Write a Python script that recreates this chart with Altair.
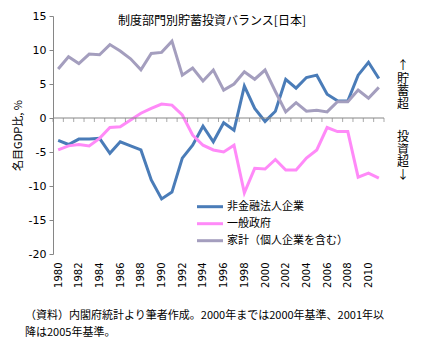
import altair as alt
import pandas as pd

years = list(range(1980, 2012))
series_names = ["非金融法人企業", "一般政府", "家計（個人企業を含む）"]
corporate = [-3.3, -3.9, -3.1, -3.1, -3.0, -5.2, -3.5, -4.1, -4.7, -9.1, -11.9,
             -10.9, -5.9, -4.0, -1.2, -3.5, -0.7, -1.8, 4.7, 1.4, -0.5,
             1.0, 5.7, 4.4, 5.95, 6.3, 3.5, 2.55, 2.5, 6.3, 8.2, 5.8]
government = [-4.7, -4.1, -3.9, -4.1, -3.0, -1.4, -1.3, -0.3, 0.7, 1.4, 2.05,
              1.9, 0.45, -2.5, -4.0, -4.7, -5.0, -4.0, -11.0, -7.4, -7.5,
              -6.1, -7.65, -7.65, -5.9, -4.7, -1.4, -2.0, -2.0, -8.7, -8.1, -8.85]
household = [7.2, 9.0, 8.0, 9.4, 9.3, 10.8, 9.85, 8.7, 7.1, 9.5, 9.65,
             11.3, 6.3, 7.35, 5.45, 7.05, 4.1, 5.0, 6.8, 5.7, 7.05,
             3.9, 0.9, 2.25, 1.0, 1.15, 0.9, 2.4, 2.4, 4.1, 2.9, 4.5]
colors = ["#4A7CB8", "#FF8AF8", "#A49EBE"]
widths = [3, 3, 2]
y_ticks = [-20, -15, -10, -5, 0, 5, 10, 15]
x_labels = list(range(1980, 2012, 2))
x_bounds = [y - 0.5 for y in range(1980, 2013)]

title_text = "制度部門別貯蓄投資バランス[日本]"
y_title = "名目GDP比, %"
note1 = "（資料）内閣府統計より筆者作成。2000年までは2000年基準、2001年以"
note2 = "降は2005年基準。"
up_label = ["↑", "貯", "蓄", "超"]
down_label = ["投", "資", "超", "↓"]

rows = []
for name, vals in zip(series_names, [corporate, government, household]):
    for yr, v in zip(years, vals):
        rows.append({"year": yr, "value": v, "series": name})
df = pd.DataFrame(rows)

JP = "Noto Sans CJK JP"
xscale = alt.Scale(domain=[1979.5, 2011.5], nice=False, zero=False)
yscale = alt.Scale(domain=[-20, 15], nice=False, zero=False)

x_axis = alt.Axis(values=x_labels, format="d", labelAngle=-90, ticks=False,
                  domain=False, grid=False, labelPadding=8, labelFont="DejaVu Sans",
                  labelFontSize=10, labelColor="#000", title=None,
                  labelOverlap=False, labelFlush=False, labelBound=False)
y_axis = alt.Axis(values=y_ticks, labelExpr="toString(datum.value)", grid=False,
                  domainColor="#868686",
                  tickColor="#868686", tickSize=4, labelPadding=3,
                  labelFont="DejaVu Sans", labelFontSize=11, labelColor="#000",
                  labelOverlap=False, labelFlush=False, labelBound=False,
                  title=y_title, titleFont=JP, titleFontSize=11,
                  titleFontWeight="normal", titleColor="#000", titlePadding=5)

zero_line = alt.Chart(pd.DataFrame({"x": [1979.5], "x2": [2011.5], "y": [0]})).mark_rule(
    color="#868686", strokeWidth=1
).encode(x=alt.X("x:Q", scale=xscale, axis=x_axis), x2="x2:Q",
         y=alt.Y("y:Q", scale=yscale, axis=y_axis))

zero_ticks = alt.Chart(pd.DataFrame({"x": x_bounds, "y": [0] * len(x_bounds)})).mark_tick(
    color="#868686", orient="vertical", size=4, yOffset=2, thickness=1
).encode(x=alt.X("x:Q", scale=xscale, axis=x_axis),
         y=alt.Y("y:Q", scale=yscale, axis=y_axis))

lines = alt.Chart(df).mark_line(strokeJoin="miter").encode(
    x=alt.X("year:Q", scale=xscale, axis=x_axis),
    y=alt.Y("value:Q", scale=yscale, axis=y_axis),
    color=alt.Color("series:N", scale=alt.Scale(domain=series_names, range=colors),
                    legend=None),
    strokeWidth=alt.StrokeWidth("series:N", scale=alt.Scale(domain=series_names, range=widths),
                                legend=None),
    order=alt.Order("year:Q"),
)

def txt(t, x, y, size=11, align="left", **kw):
    return alt.Chart(pd.DataFrame({"a": [0]})).mark_text(
        font=JP, fontSize=size, align=align, baseline="middle", color="#000", **kw
    ).encode(x=alt.value(x), y=alt.value(y), text=alt.value(t))

legend_layers = []
for i, (name, col, w) in enumerate(zip(series_names, colors, widths)):
    ly = 190.7 + i * 17
    legend_layers.append(
        alt.Chart(pd.DataFrame({"a": [0]})).mark_rule(color=col, strokeWidth=3).encode(
            x=alt.value(144), x2=alt.value(170), y=alt.value(ly))
    )
    legend_layers.append(txt(name, 174, ly))

side_layers = []
for i, ch in enumerate(up_label):
    side_layers.append(txt(ch, 350, 50 + i * 12.5, size=12, align="center"))
for i, ch in enumerate(down_label):
    side_layers.append(txt(ch, 350, 121 + i * 12.5, size=12, align="center"))

title = txt(title_text, 159, 5, size=12, align="center")
n1 = txt(note1, -28, 300)
n2 = txt(note2, -28, 317)

chart = alt.layer(lines, zero_line, zero_ticks, *legend_layers, *side_layers,
                  title, n1, n2).properties(
    width=331, height=238,
    autosize=alt.AutoSizeParams(type="none"),
    padding={"left": 53, "top": 16, "right": 43, "bottom": 103},
).configure_view(stroke=None)

chart.save("out.html", embed_options={"renderer": "svg", "actions": False})
